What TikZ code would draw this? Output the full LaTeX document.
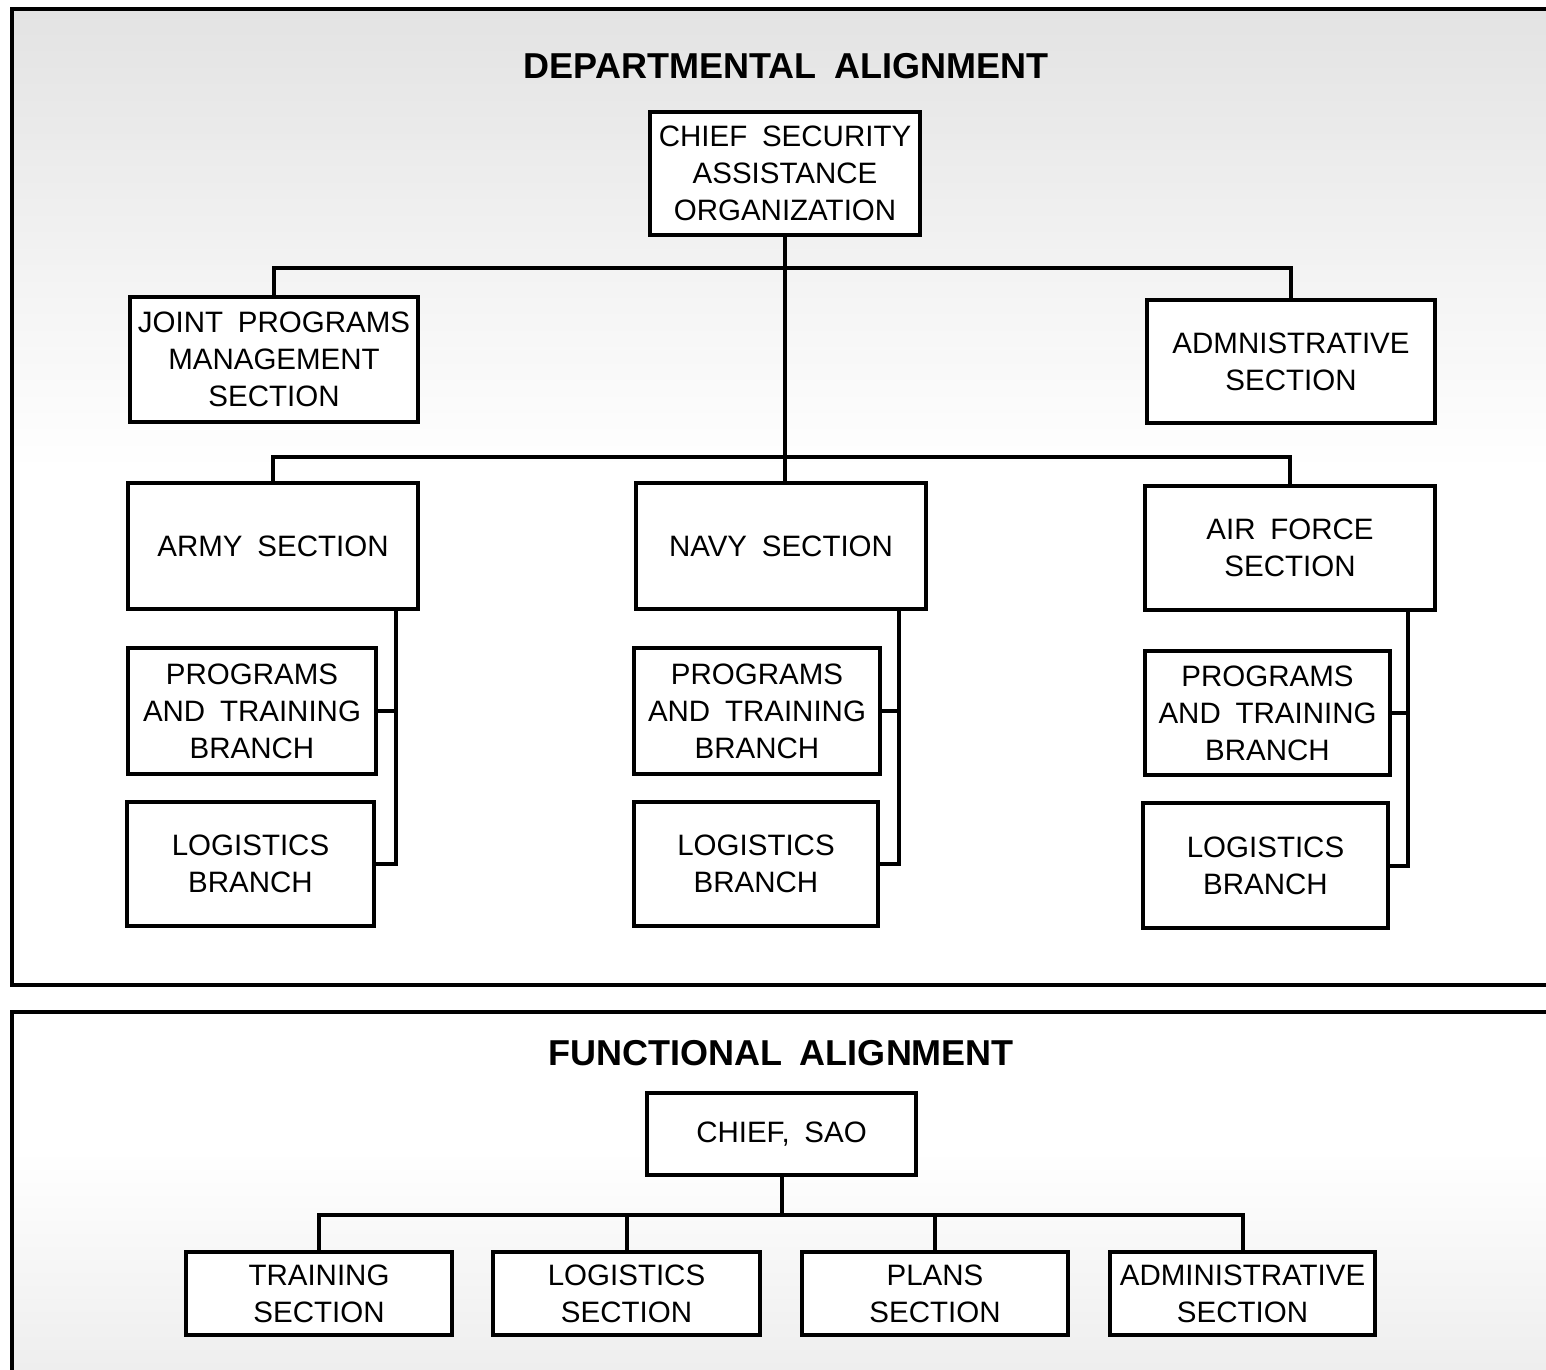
\documentclass[tikz,border=0pt]{standalone}
\usepackage{fontspec}
\setmainfont{Liberation Sans}
\newfontfamily\boxfont[WordSpace=1.8]{Liberation Sans}
\begin{document}
\begin{tikzpicture}[x=1pt,y=-1pt,
  box/.style={draw=black,line width=4.5pt,fill=white,align=center,inner sep=0pt,
    font=\boxfont\fontsize{29.5}{37}\selectfont},
  conn/.style={draw=black,line width=4pt},
  frame/.style={draw=black,line width=4pt},
  title/.style={font=\boxfont\fontsize{36}{40}\selectfont\bfseries}]
\useasboundingbox (0,0) rectangle (1546,1369);
\clip (0,0) rectangle (1546,1369);
% backgrounds
\shade[top color=gray!22,bottom color=white] (12,9) rectangle (1560,470);
\shade[top color=white,bottom color=gray!14] (12,1150) rectangle (1560,1380);
\draw[frame] (12,9) rectangle (1570,985);
\draw[frame] (12,1012) rectangle (1570,1400);
% titles
\node[title] (t1) at (786,66) {DEPARTMENTAL ALIGNMENT};
\node[title] (t2) at (781,1053) {FUNCTIONAL ALIGNMENT};
% top panel nodes
\node[box,minimum width=270,minimum height=123] (chief) at (785,173.5) {CHIEF SECURITY\\ASSISTANCE\\ORGANIZATION};
\node[box,minimum width=288,minimum height=125] (jpm) at (274,359.5) {JOINT PROGRAMS\\MANAGEMENT\\SECTION};
\node[box,minimum width=288,minimum height=123] (adm) at (1291,361.5) {ADMNISTRATIVE\\SECTION};
\node[box,minimum width=290,minimum height=126] (army) at (273,546) {ARMY SECTION};
\node[box,minimum width=290,minimum height=126] (navy) at (781,546) {NAVY SECTION};
\node[box,minimum width=290,minimum height=124] (af) at (1290,548) {AIR FORCE\\SECTION};
\node[box,minimum width=248,minimum height=126] (aptb) at (252,711) {PROGRAMS\\AND TRAINING\\BRANCH};
\node[box,minimum width=247,minimum height=124] (alog) at (250.5,864) {LOGISTICS\\BRANCH};
\node[box,minimum width=246,minimum height=126] (nptb) at (757,711) {PROGRAMS\\AND TRAINING\\BRANCH};
\node[box,minimum width=244,minimum height=124] (nlog) at (756,864) {LOGISTICS\\BRANCH};
\node[box,minimum width=245,minimum height=124] (fptb) at (1267.5,713) {PROGRAMS\\AND TRAINING\\BRANCH};
\node[box,minimum width=245,minimum height=125] (flog) at (1265.5,865.5) {LOGISTICS\\BRANCH};
% bottom panel nodes
\node[box,minimum width=269,minimum height=82] (sao) at (781.5,1134) {CHIEF, SAO};
\node[box,minimum width=266,minimum height=83] (tr) at (319,1293.5) {TRAINING\\SECTION};
\node[box,minimum width=267,minimum height=83] (lo) at (626.5,1293.5) {LOGISTICS\\SECTION};
\node[box,minimum width=266,minimum height=83] (pl) at (935,1293.5) {PLANS\\SECTION};
\node[box,minimum width=265,minimum height=83] (ad) at (1242.5,1293.5) {ADMINISTRATIVE\\SECTION};
% helper coordinates
\coordinate (h1) at (785,268);
\coordinate (h2) at (785,457);
\coordinate (h3) at (782,1215);
\coordinate (av) at (396,0);
\coordinate (nv) at (899,0);
\coordinate (fv) at (1408,0);
% connectors top
\draw[conn] (chief.south -| h1) -- (navy.north -| h1);
\draw[conn] (jpm.north) -- (jpm.north |- h1) -- (adm.north |- h1) -- (adm.north);
\draw[conn] (army.north) -- (army.north |- h2) -- (af.north |- h2) -- (af.north);
\draw[conn] (army.south -| av) -- (av |- alog.east) -- (alog.east);
\draw[conn] (aptb.east) -- (aptb.east -| av);
\draw[conn] (navy.south -| nv) -- (nv |- nlog.east) -- (nlog.east);
\draw[conn] (nptb.east) -- (nptb.east -| nv);
\draw[conn] (af.south -| fv) -- (fv |- flog.east) -- (flog.east);
\draw[conn] (fptb.east) -- (fptb.east -| fv);
% connectors bottom
\draw[conn] (sao.south) -- (sao.south |- h3);
\draw[conn] (tr.north) -- (tr.north |- h3) -- (ad.north |- h3) -- (ad.north);
\draw[conn] (lo.north) -- (lo.north |- h3);
\draw[conn] (pl.north) -- (pl.north |- h3);
\end{tikzpicture}
\end{document}
